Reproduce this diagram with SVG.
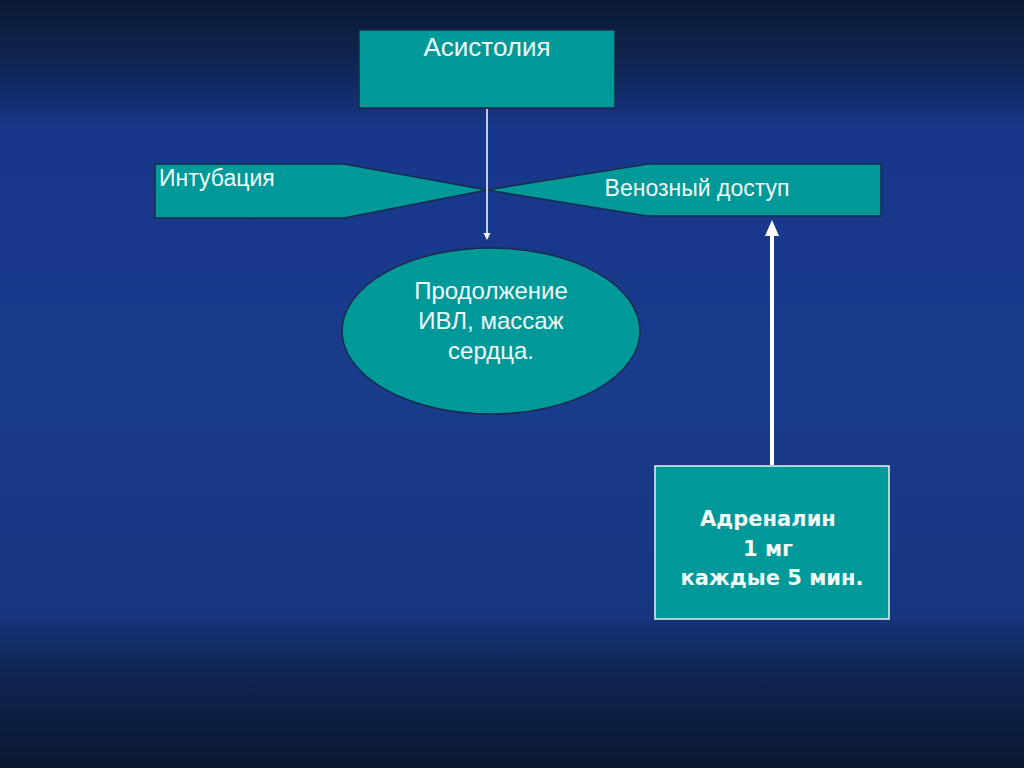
<svg xmlns="http://www.w3.org/2000/svg" width="1024" height="768" viewBox="0 0 1024 768">
<defs>
<linearGradient id="bg" x1="0" y1="0" x2="0" y2="1">
<stop offset="0" stop-color="#0b1a33"/>
<stop offset="0.08" stop-color="#0f2450"/>
<stop offset="0.17" stop-color="#17378a"/>
<stop offset="0.5" stop-color="#1a3c8d"/>
<stop offset="0.8" stop-color="#17357f"/>
<stop offset="0.88" stop-color="#0f2450"/>
<stop offset="1" stop-color="#0a1830"/>
</linearGradient>
</defs>
<style>
.node{fill:#009999;stroke:#1a2a4a;stroke-width:1.5}
.t{font-family:"Liberation Sans",Arial,sans-serif;fill:#f2fafa}
.b{font-family:"DejaVu Sans",Verdana,sans-serif;font-weight:bold;fill:#f2fafa}
.head{fill:#ffffff}
</style>
<rect width="1024" height="768" fill="url(#bg)"/>
<g id="asystole">
<rect class="node" x="359" y="30" width="256" height="78"/>
<text class="t" x="487" y="56" font-size="26" text-anchor="middle">Асистолия</text>
</g>
<g id="intubation">
<polygon class="node" points="155,164 344,164 487,190 344,218 155,218"/>
<text class="t" x="159" y="186" font-size="23">Интубация</text>
</g>
<g id="venous">
<polygon class="node" points="487,190 648,164 881,164 881,216 647,216"/>
<text class="t" x="697" y="196" font-size="23" text-anchor="middle">Венозный доступ</text>
</g>
<g id="continue">
<ellipse class="node" cx="491" cy="331" rx="149" ry="83"/>
<text class="t" font-size="24" text-anchor="middle"><tspan x="491" y="299">Продолжение</tspan><tspan x="491" y="329">ИВЛ, массаж</tspan><tspan x="491" y="359">сердца.</tspan></text>
</g>
<g id="adrenaline">
<rect x="655" y="466" width="234" height="153" fill="#009999" stroke="#e8f4f4" stroke-width="1.5"/>
<text class="b" font-size="21" text-anchor="middle"><tspan x="768" y="526">Адреналин</tspan><tspan x="768" y="556">1 мг</tspan><tspan x="772" y="585">каждые 5 мин.</tspan></text>
</g>
<g id="connectors">
<line x1="487" y1="109" x2="487" y2="234" stroke="#ffffff" stroke-width="1.5"/>
<polygon class="head" points="483.5,233 490.5,233 487,240"/>
<line x1="772" y1="465" x2="772" y2="234" stroke="#ffffff" stroke-width="4"/>
<polygon class="head" points="772,220 779,236 765,236"/>
</g>
</svg>
